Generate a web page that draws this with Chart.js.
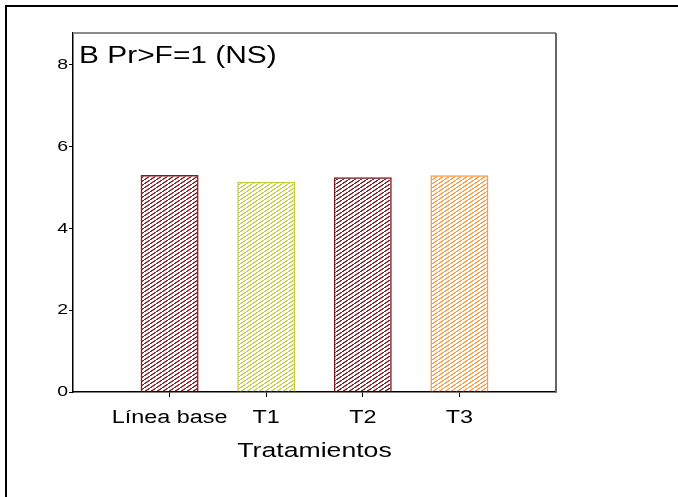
<!DOCTYPE html>
<html>
<head>
<meta charset="utf-8">
<script src="https://cdn.jsdelivr.net/npm/chart.js@4.4.1/dist/chart.umd.min.js"></script>
<style>
  body { margin: 0; background: #fff; }
  #wrap { position: relative; width: 678px; height: 497px; }
</style>
</head>
<body>
<div id="wrap"><canvas id="grafico"></canvas></div>
<script>
const categorias = ['Línea base', 'T1', 'T2', 'T3']
const valores = [5.31, 5.14, 5.25, 5.30]
const cores = ['#8b1a1f', '#c6cc3a', '#7e1a1f', '#ff9a3c']
const ticksY = [0, 2, 4, 6, 8]
const titulo = 'B Pr>F=1 (NS)'
const tituloEixoX = 'Tratamientos'

const ESTICA = 1.3 // o texto da figura original aparece esticado na horizontal

const canvas = document.getElementById('grafico')
const ctx = canvas.getContext('2d')

// estica o texto horizontalmente em volta do ponto de ancoragem
const fillOriginal = ctx.fillText.bind(ctx)
ctx.fillText = function (texto, x, y) {
  ctx.save()
  ctx.translate(x, y)
  ctx.scale(ESTICA, 1)
  fillOriginal(texto, 0, 0)
  ctx.restore()
}

function hachura(cor) {
  const c = document.createElement('canvas')
  c.width = 6
  c.height = 4
  const g = c.getContext('2d')
  g.strokeStyle = cor
  g.lineWidth = 1
  g.beginPath()
  g.moveTo(-6, 8); g.lineTo(6, 0)
  g.moveTo(0, 4); g.lineTo(6, 0)
  g.moveTo(0, 4); g.lineTo(12, -4)
  g.stroke()
  return g.createPattern(c, 'repeat')
}

// rotulos com posicoes vazias nas pontas para deixar o espaco das margens
const rotulos = ['', ...categorias, '']
const dados = [null, ...valores, null]
const fundos = [null, ...cores.map(hachura), null]
const bordas = [null, ...cores, null]

const molduras = {
  id: 'molduras',
  afterDraw(chart) {
    const c = chart.ctx
    const a = chart.chartArea
    c.save()
    // moldura externa
    c.strokeStyle = '#000'
    c.lineWidth = 2
    c.strokeRect(6, 6, 800, 600)
    // bordas de cima e da direita do painel
    c.strokeStyle = '#8a8a8a'
    c.beginPath()
    c.moveTo(a.left, a.top)
    c.lineTo(a.right, a.top)
    c.stroke()
    c.strokeStyle = '#666'
    c.beginPath()
    c.moveTo(a.right, a.top)
    c.lineTo(a.right, a.bottom)
    c.stroke()
    // titulo dentro do painel
    c.fillStyle = '#000'
    c.font = '23px "Liberation Sans", Arial, sans-serif'
    c.textAlign = 'left'
    c.textBaseline = 'alphabetic'
    c.fillText(titulo, a.left + 6, 63)
    c.restore()
  }
}

new Chart(canvas, {
  type: 'bar',
  data: {
    labels: rotulos,
    datasets: [{
      data: dados,
      backgroundColor: fundos,
      borderColor: bordas,
      borderWidth: 1.5,
      categoryPercentage: 1,
      barPercentage: 0.6
    }]
  },
  options: {
    responsive: true,
    maintainAspectRatio: false,
    animation: false,
    layout: { padding: { top: 33, right: 122, left: 0, bottom: 0 } },
    plugins: {
      legend: { display: false },
      tooltip: { enabled: false }
    },
    scales: {
      x: {
        offset: false,
        grid: {
          offset: false,
          drawOnChartArea: false,
          tickLength: 5,
          color: (c) => (c.index === 0 || c.index === rotulos.length - 1) ? 'rgba(0,0,0,0)' : '#000'
        },
        border: { color: '#000', width: 1.5 },
        ticks: {
          color: '#000',
          font: { family: '"Liberation Sans", Arial, sans-serif', size: 18 },
          padding: 10,
          maxRotation: 0,
          autoSkip: false
        },
        title: {
          display: true,
          text: tituloEixoX,
          color: '#000',
          font: { family: '"Liberation Sans", Arial, sans-serif', size: 20.5 },
          padding: { top: 0, bottom: 33 }
        },
        afterFit(s) { s.height = 105 }
      },
      y: {
        min: 0,
        max: 8.78,
        afterBuildTicks(s) { s.ticks = ticksY.map(v => ({ value: v })) },
        grid: { drawOnChartArea: false, tickLength: 4, color: '#000' },
        border: { color: '#000', width: 1.5 },
        ticks: {
          color: '#000',
          font: { family: '"Liberation Sans", Arial, sans-serif', size: 15 },
          padding: 1
        },
        afterFit(s) { s.width = 73 }
      }
    }
  },
  plugins: [molduras]
})
</script>
</body>
</html>
